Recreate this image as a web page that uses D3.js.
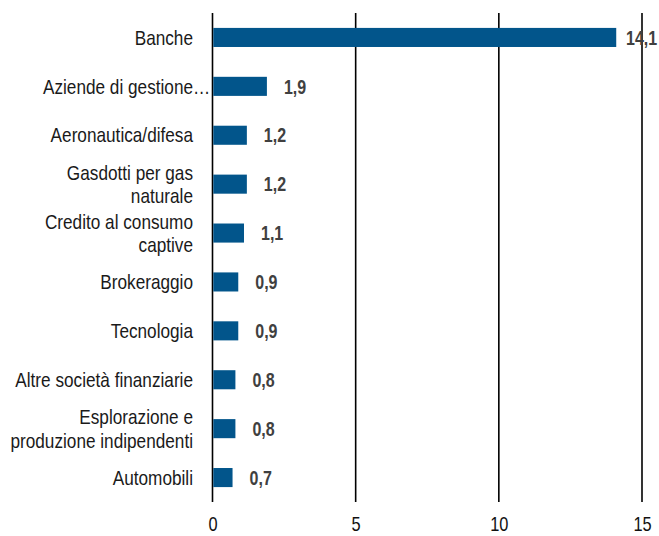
<!DOCTYPE html>
<html>
<head>
<meta charset="utf-8">
<script src="https://cdn.jsdelivr.net/npm/d3@7"></script>
<style>
  body { margin: 0; background: #fff; }
  svg text { font-family: "Liberation Sans", Arial, sans-serif; }
</style>
</head>
<body>
<svg id="chart" width="659" height="536"></svg>
<script>
const categories = [
  ['Banche'],
  ['Aziende di gestione…'],
  ['Aeronautica/difesa'],
  ['Gasdotti per gas', 'naturale'],
  ['Credito al consumo', 'captive'],
  ['Brokeraggio'],
  ['Tecnologia'],
  ['Altre società finanziarie'],
  ['Esplorazione e', 'produzione indipendenti'],
  ['Automobili']
]
const values = [14.1, 1.9, 1.2, 1.2, 1.1, 0.9, 0.9, 0.8, 0.8, 0.7]
const xTicks = [0, 5, 10, 15]

const width = 659
const margin = { top: 13, right: 17, bottom: 34, left: 212.5 }
const plotH = 536 - margin.top - margin.bottom
// no narrow font installed, so squeeze the text horizontally
const squeeze = 0.86
const squeezeBold = 0.8

const svg = d3.select('#chart')
const g = svg.append('g').attr('transform', `translate(${margin.left},${margin.top})`)

const xScale = d3.scaleLinear().domain([0, 15]).range([0, width - margin.left - margin.right])
const yScale = d3.scaleBand().domain(d3.range(values.length)).range([0, plotH]).paddingInner(0.61).paddingOuter(0.305)

// gridlines (the 0 line doubles as the axis)
g.selectAll('.grid')
  .data(xTicks)
  .join('line')
  .attr('class', 'grid')
  .attr('x1', (d) => xScale(d))
  .attr('x2', (d) => xScale(d))
  .attr('y1', 0)
  .attr('y2', plotH)
  .attr('stroke', '#000')
  .attr('stroke-width', 1.6)

const xAxis = d3.axisBottom(xScale).tickValues(xTicks).tickSize(0).tickPadding(14.5)
g.append('g')
  .attr('transform', `translate(0,${plotH})`)
  .call(xAxis)
  .call((a) => a.select('.domain').remove())
  .selectAll('text')
  .attr('font-size', 20)
  .attr('fill', '#111')
  .attr('font-family', '"Liberation Sans", Arial, sans-serif')
  .attr('transform', `scale(${squeeze - 0.04},1)`)

// bars
g.selectAll('.bar')
  .data(values)
  .join('rect')
  .attr('class', 'bar')
  .attr('x', 0.8)
  .attr('y', (d, i) => yScale(i))
  .attr('width', (d) => xScale(d) - 0.8)
  .attr('height', yScale.bandwidth())
  .attr('fill', '#02558b')

// value labels
const fmt = (v) => d3.format('.1f')(v).replace('.', ',')
g.selectAll('.val')
  .data(values)
  .join('text')
  .attr('class', 'val')
  .attr('transform', (d, i) => `translate(${Math.min(xScale(d) + 17, xScale(15) - 16)},${yScale(i) + yScale.bandwidth() / 2}) scale(${squeezeBold},1)`)
  .attr('dy', '0.36em')
  .attr('font-size', 20)
  .attr('font-weight', 'bold')
  .attr('fill', '#404040')
  .text((d) => fmt(d))

// category labels
const lineH = 23.5
const labelX = -19.5
const labels = g.selectAll('.cat')
  .data(categories)
  .join('text')
  .attr('class', 'cat')
  .attr('transform', (d, i) => `translate(${labelX},${yScale(i) + yScale.bandwidth() / 2}) scale(${squeeze},1)`)
  .attr('text-anchor', 'end')
  .attr('font-size', 20)
  .attr('fill', '#1a1a1a')

labels.selectAll('tspan')
  .data((d) => d)
  .join('tspan')
  .attr('x', 0)
  .attr('dy', (d, i, nodes) => i === 0 ? `${0.36 * 20 - (nodes.length - 1) * lineH / 2}px` : `${lineH}px`)
  .text((d) => d)

// truncated label: let the ellipsis hang past the label column
labels.filter((d) => d[d.length - 1].endsWith('…'))
  .each(function () {
    const probe = g.append('text').attr('font-size', 20).text('…')
    const w = probe.node().getComputedTextLength()
    probe.remove()
    d3.select(this).selectAll('tspan').attr('x', w)
  })
</script>
</body>
</html>
